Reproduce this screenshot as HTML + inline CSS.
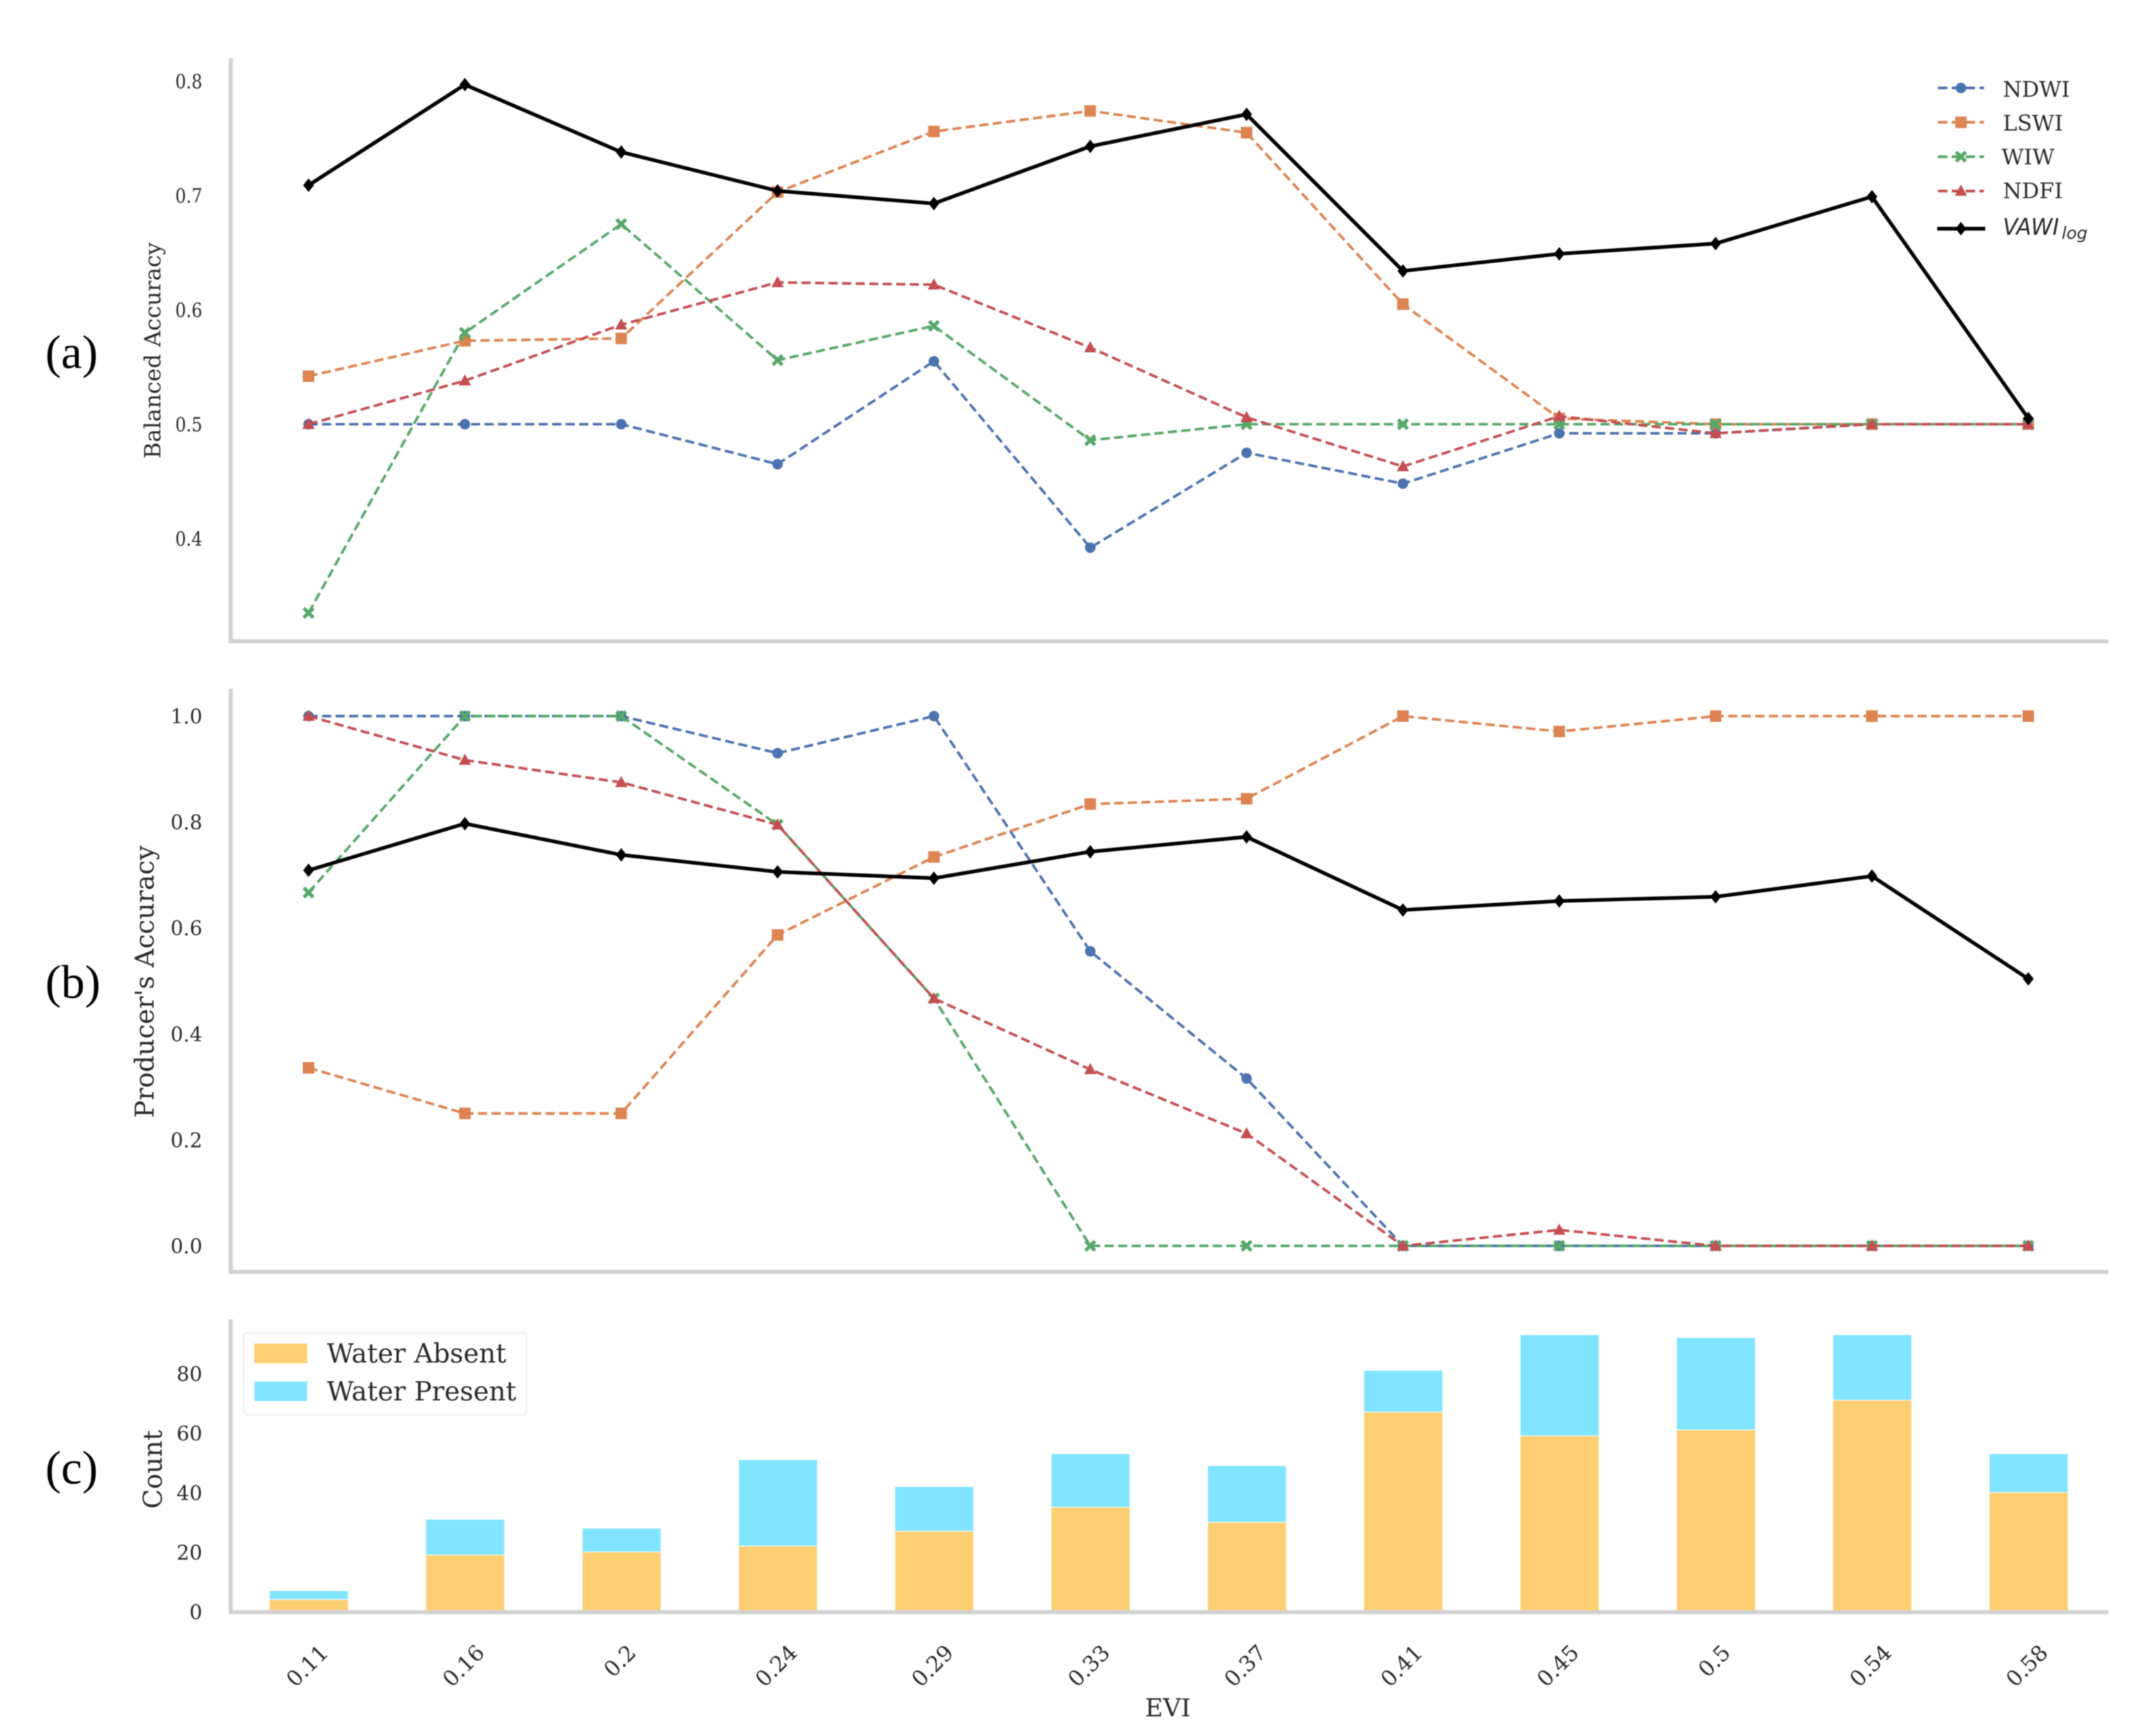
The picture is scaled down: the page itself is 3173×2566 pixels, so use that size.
<!DOCTYPE html>
<html lang="en">
<head>
<meta charset="utf-8">
<title>Accuracy by EVI</title>
<style>
html,body{margin:0;padding:0;background:#fff;}
#chart{display:block;width:3173px;height:2566px;filter:blur(0.9px);}
text{font-family:"DejaVu Serif","Liberation Serif",serif;fill:#2a2a2a;}
.panel-tag{font-family:"Liberation Serif","DejaVu Serif",serif;font-size:70px;fill:#000;}
.math{font-family:"DejaVu Sans","Liberation Sans",sans-serif;font-style:italic;}
</style>
</head>
<body>
<svg id="chart" xmlns="http://www.w3.org/2000/svg" width="3173" height="2566" viewBox="0 0 3173 2566">
  <rect x="0" y="0" width="3173" height="2566" fill="#ffffff"/>
  <text class="panel-tag" x="67" y="544">(a)</text>
  <text class="panel-tag" x="67" y="1475">(b)</text>
  <text class="panel-tag" x="67" y="2193">(c)</text>
  <text font-size="33" text-anchor="middle" transform="translate(237,518) rotate(-90)">Balanced Accuracy</text>
  <text font-size="38.5" text-anchor="middle" transform="translate(227,1451) rotate(-90)">Producer's Accuracy</text>
  <text font-size="38" text-anchor="middle" transform="translate(239,2172) rotate(-90)">Count</text>
  <text font-size="36.5" text-anchor="middle" x="1726" y="2537">EVI</text>
  <g id="plots"></g>
  <g id="legend-a"></g>
  <g id="legend-c"></g>
</svg>
<script>
// ---- data ----
const categories = ["0.11","0.16","0.2","0.24","0.29","0.33","0.37","0.41","0.45","0.5","0.54","0.58"];

const ticksA = [0.4,0.5,0.6,0.7,0.8];
const ticksB = [0.0,0.2,0.4,0.6,0.8,1.0];
const ticksC = [0,20,40,60,80];

const ndwiA = [0.5,0.5,0.5,0.465,0.555,0.392,0.475,0.448,0.492,0.492,0.5,0.5];
const lswiA = [0.542,0.573,0.575,0.703,0.756,0.774,0.755,0.605,0.505,0.5,0.5,0.5];
const wiwA  = [0.335,0.58,0.675,0.556,0.586,0.486,0.5,0.5,0.5,0.5,0.5,0.5];
const ndfiA = [0.5,0.538,0.587,0.624,0.622,0.567,0.506,0.463,0.507,0.492,0.5,0.5];
const vawiA = [0.709,0.797,0.738,0.704,0.693,0.743,0.771,0.634,0.649,0.658,0.699,0.505];

const ndwiB = [1,1,1,0.93,1,0.556,0.316,0,0,0,0,0];
const lswiB = [0.336,0.25,0.25,0.587,0.734,0.834,0.844,1,0.971,1,1,1];
const wiwB  = [0.667,1,1,0.795,0.467,0,0,0,0,0,0,0];
const ndfiB = [1,0.917,0.875,0.795,0.467,0.333,0.212,0,0.03,0,0,0];
const vawiB = [0.709,0.797,0.738,0.706,0.694,0.744,0.772,0.634,0.651,0.659,0.698,0.504];

const waterAbsent  = [4,19,20,22,27,35,30,67,59,61,71,40];
const waterPresent = [3,12,8,29,15,18,19,14,34,31,22,13];

// ---- axis functions ----
const NS = "http://www.w3.org/2000/svg";
const xPos = i => 456 + i * 231.05;
const yA = v => 627 - (v - 0.5) * 1690;
const yB = v => 1841.5 - v * 783;
const yC = v => 2382.5 - v * 4.4;

const plots = document.getElementById("plots");
const legendA = document.getElementById("legend-a");
const legendC = document.getElementById("legend-c");

function make(tag, attrs, parent){
  const el = document.createElementNS(NS, tag);
  for (const k in attrs) el.setAttribute(k, attrs[k]);
  parent.appendChild(el);
  return el;
}

function drawMarker(kind, x, y, color, parent){
  let m;
  if (kind === "circle") {
    m = make("circle", {cx:x, cy:y, r:7.8, fill:color}, parent);
  } else if (kind === "square") {
    m = make("rect", {x:x-8.5, y:y-8.5, width:17, height:17, fill:color}, parent);
  } else if (kind === "x") {
    const d = `M${x-7} ${y-7}L${x+7} ${y+7}M${x+7} ${y-7}L${x-7} ${y+7}`;
    m = make("path", {d:d, stroke:color, "stroke-width":5.2, fill:"none"}, parent);
  } else if (kind === "triangle") {
    m = make("polygon", {points:`${x},${y-9.5} ${x+9},${y+7} ${x-9},${y+7}`, fill:color}, parent);
  } else {
    m = make("polygon", {points:`${x},${y-10} ${x+8},${y} ${x},${y+10} ${x-8},${y}`, fill:color}, parent);
  }
  
  
}

function drawSeries(name, values, yFn, color, kind, solid, parent){
  const g = make("g", {}, parent);
  
  
  const pts = values.map((v,i) => xPos(i).toFixed(1) + "," + yFn(v).toFixed(1)).join(" ");
  const line = make("polyline", {
    points: pts, fill: "none", stroke: color,
    "stroke-width": solid ? 5.4 : 3.8,
    "stroke-linejoin": "round"
  }, g);
  if (!solid) line.setAttribute("stroke-dasharray", "13.5 6.5");
  
  
  values.forEach((v,i) => drawMarker(kind, xPos(i), yFn(v), color, g));
}

function drawSpines(prefix, top, bottom){
  const left = make("rect", {x:338, y:top, width:6, height:bottom-top+3, fill:"#d2d2d2"}, plots);
  
  
  const base = make("rect", {x:338, y:bottom-3, width:2778, height:6, fill:"#d2d2d2"}, plots);
  
  
}

function drawYTicks(prefix, ticks, yFn, fontSize, digits, squeeze){
  ticks.forEach(t => {
    const label = make("text", {
      x: 299, y: yFn(t) + fontSize * 0.365,
      "font-size": fontSize, "text-anchor": "end"
    }, plots);
    label.textContent = t.toFixed(digits);
    if (squeeze) {
      label.setAttribute("textLength", squeeze);
      label.setAttribute("lengthAdjust", "spacingAndGlyphs");
    }
    
    
  });
}

// ---- panel a ----
const colors = {ndwi:"#4C72B0", lswi:"#DD8452", wiw:"#55A868", ndfi:"#C44E52", vawi:"#000000"};
const gA = make("g", {}, plots);


drawSeries("ndwi-series-a", ndwiA, yA, colors.ndwi, "circle", false, gA);
drawSeries("lswi-series-a", lswiA, yA, colors.lswi, "square", false, gA);
drawSeries("wiw-series-a",  wiwA,  yA, colors.wiw,  "x", false, gA);
drawSeries("ndfi-series-a", ndfiA, yA, colors.ndfi, "triangle", false, gA);
drawSeries("vawi-series-a", vawiA, yA, colors.vawi, "diamond", true, gA);
drawSpines("panel-a", 86, 948);
drawYTicks("panel-a", ticksA, yA, 29, 1, 40);

// ---- panel b ----
const gB = make("g", {}, plots);


drawSeries("ndwi-series-b", ndwiB, yB, colors.ndwi, "circle", false, gB);
drawSeries("lswi-series-b", lswiB, yB, colors.lswi, "square", false, gB);
drawSeries("wiw-series-b",  wiwB,  yB, colors.wiw,  "x", false, gB);
drawSeries("ndfi-series-b", ndfiB, yB, colors.ndfi, "triangle", false, gB);
drawSeries("vawi-series-b", vawiB, yB, colors.vawi, "diamond", true, gB);
drawSpines("panel-b", 1018, 1880);
drawYTicks("panel-b", ticksB, yB, 30, 1, 47);

// ---- panel c ----
const gC = make("g", {}, plots);


const barW = 115.5;
const absentColor = "#FDCF72";
const presentColor = "#82E5FF";
categories.forEach((c,i) => {
  const cx = xPos(i) + 0.5;
  const a = make("rect", {x:cx-barW/2, y:yC(waterAbsent[i]), width:barW, height:yC(0)-yC(waterAbsent[i]), fill:absentColor}, gC);
  
  
  const top = waterAbsent[i] + waterPresent[i];
  const p = make("rect", {x:cx-barW/2, y:yC(top), width:barW, height:yC(waterAbsent[i])-yC(top)-1, fill:presentColor}, gC);
  
  
});
drawSpines("panel-c", 1950, 2383);
drawYTicks("panel-c", ticksC, yC, 30, 0, 0);

// x tick labels: rotated 45deg, bounding-box tops aligned
categories.forEach((c,i) => {
  const t = make("text", {"font-size":32, "text-anchor":"middle", "dominant-baseline":"central"}, plots);
  t.textContent = c;
  
  
  const w = t.getComputedTextLength();
  const cy = 2429 + (w + 23) * 0.3535;
  t.setAttribute("transform", `translate(${xPos(i)-2},${cy}) rotate(-45)`);
});

// ---- legend for panel a ----
const legendNames = ["NDWI","LSWI","WIW","NDFI"];
const legendKinds = ["circle","square","x","triangle"];
const legendColors = [colors.ndwi, colors.lswi, colors.wiw, colors.ndfi];
legendNames.forEach((n,i) => {
  const y = 130 + i * 50.8;
  const g = make("g", {}, legendA);
  
  
  const l = make("line", {x1:2864, x2:2932, y1:y, y2:y, stroke:legendColors[i], "stroke-width":4, "stroke-dasharray":"14 6.5"}, g);
  
  
  drawMarker(legendKinds[i], 2898, y, legendColors[i], g);
  const t = make("text", {x: n === "WIW" ? 2958 : 2960, y: 143 + i * 50, "font-size": 32}, g);
  t.textContent = n;
  
  
});
const vg = make("g", {}, legendA);


const vl = make("line", {x1:2863, x2:2934, y1:338, y2:338, stroke:"#000", "stroke-width":5.4}, vg);


drawMarker("diamond", 2898, 338, "#000", vg);
const vt = make("text", {x:2960, y:347, "font-size":34, "class":"math", textLength:83, lengthAdjust:"spacingAndGlyphs"}, vg);
vt.textContent = "VAWI";


const vs = make("text", {x:3047, y:353, "font-size":25, "class":"math"}, vg);
vs.textContent = "log";



// ---- legend for panel c ----
const frame = make("rect", {x:360, y:1970, width:418, height:121, rx:6, fill:"#fff", stroke:"#efefef", "stroke-width":2}, legendC);


const waterNames = ["Water Absent","Water Present"];
const waterColors = [absentColor, presentColor];
waterNames.forEach((n,i) => {
  const y = 1986 + i * 56;
  const sw = make("rect", {x:376, y:y, width:78, height:29, fill:waterColors[i]}, legendC);
  
  
  const t = make("text", {x:483, y:y + 28, "font-size":38.8}, legendC);
  t.textContent = n;
  
  
});
</script>
</body>
</html>
